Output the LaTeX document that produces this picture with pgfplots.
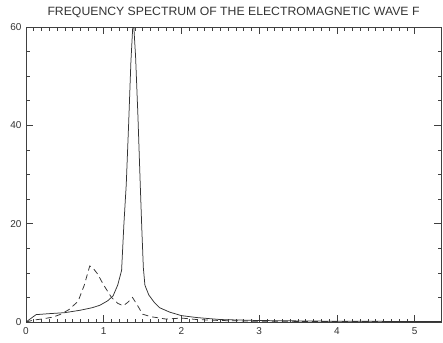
\documentclass[border=0pt]{standalone}
\usepackage{fontspec}
\setmainfont{Liberation Sans}
\usepackage{pgfplots}
\pgfplotsset{compat=1.18}
\begin{document}
\begin{tikzpicture}
\useasboundingbox (-26pt,-20pt) rectangle (417pt,322pt);
\begin{axis}[
  at={(0pt,0pt)}, anchor=south west,
  scale only axis,
  width=415pt, height=295pt,
  xmin=0, xmax=5.34,
  ymin=0, ymax=60,
  xtick={0,1,2,3,4,5},
  ytick={0,20,40,60},
  minor x tick num=9,
  minor y tick num=3,
  tick align=inside,
  major tick length=7pt,
  minor tick length=3.5pt,
  axis line style={black!75, line width=0.6pt},
  every tick/.style={black!75, line width=0.6pt},
  tick label style={font=\fontsize{10}{11}\selectfont, text=black!80},
  xticklabel style={yshift=-2pt},
  yticklabel style={xshift=-1pt},
  /pgf/number format/assume math mode=true,
  title={\scalebox{1.02}[1]{\fontsize{12}{14}\selectfont FREQUENCY SPECTRUM OF THE ELECTROMAGNETIC WAVE F}},
  title style={at={(0.5,1)}, anchor=base, yshift=6pt, text=black!80},
  clip=true,
]
\addplot[black!80, line width=0.75pt] coordinates {
(0,0) (0.13,1.5) (0.3,1.7) (0.5,1.9) (0.7,2.4) (0.85,2.9) (0.95,3.4) (1.05,4.3) (1.12,5.3) (1.18,7.5) (1.23,10.5) (1.26,20) (1.29,28) (1.32,40) (1.35,53) (1.38,62) (1.41,54) (1.44,42) (1.47,28) (1.49,19) (1.51,11) (1.53,7.5) (1.58,5.5) (1.65,4) (1.72,2.9) (1.85,2) (2.0,1.3) (2.2,0.9) (2.5,0.5) (3,0.3) (4,0.15) (5.34,0.1)
};
\addplot[black!80, line width=0.75pt, dash pattern=on 6pt off 4pt] coordinates {
(0,0) (0.1,0.4) (0.2,0.6) (0.35,1.0) (0.45,1.6) (0.55,2.5) (0.67,4.2) (0.75,7.5) (0.82,11.4) (0.86,11) (0.92,9.8) (1.0,7.5) (1.1,5.0) (1.18,3.8) (1.25,3.3) (1.31,4.0) (1.37,5.0) (1.43,3.5) (1.5,1.6) (1.6,1.1) (1.8,0.6) (2.0,0.8) (2.2,0.5) (2.5,0.3) (3,0.15) (4,0.1) (5.34,0.05)
};
\end{axis}
\end{tikzpicture}
\end{document}
